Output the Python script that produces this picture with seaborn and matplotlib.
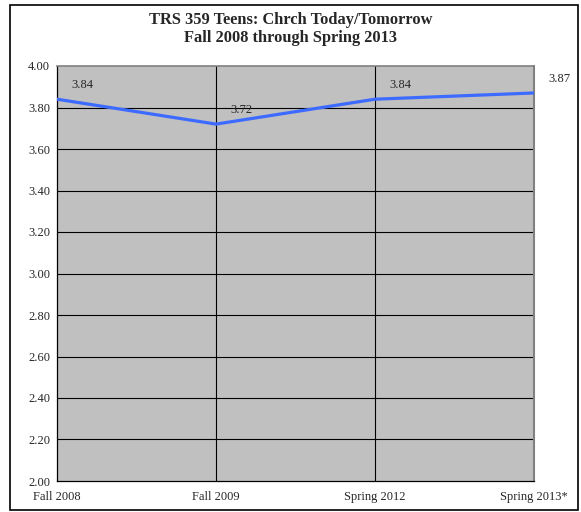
import matplotlib.pyplot as plt
import seaborn as sns
from matplotlib.patches import Rectangle

semesters = ['Fall 2008', 'Fall 2009', 'Spring 2012', 'Spring 2013*']
scores = [3.84, 3.72, 3.84, 3.87]
y_ticks = [2.00, 2.20, 2.40, 2.60, 2.80, 3.00, 3.20, 3.40, 3.60, 3.80, 4.00]

sns.set_style('white')
plt.rcParams['font.family'] = ['Liberation Serif', 'DejaVu Serif']

fig = plt.figure(figsize=(5.81, 5.12), dpi=100)
ax = fig.add_axes([57 / 581, 1 - 481 / 512, 477 / 581, 415 / 512])
ax.set_facecolor('#c0c0c0')

pos = list(range(len(semesters)))
sns.lineplot(x=pos, y=scores, ax=ax, color='#3d6bff', linewidth=2.3, zorder=3)

for x, y in zip(pos, scores):
    ax.annotate(f'{y:.2f}', (x, y), xytext=(14, 8), textcoords='offset pixels',
                fontsize=9, ha='left', va='bottom')

ax.set_xlim(0, 3)
ax.set_ylim(2.0, 4.0)
ax.set_yticks(y_ticks)
ax.set_yticklabels([f'{v:.2f}' for v in y_ticks], fontsize=9)
ax.set_xticks(pos)
ax.set_xticklabels(semesters, fontsize=9)
ax.tick_params(axis='both', direction='out', length=3, width=0.8, color='black', pad=2)
ax.tick_params(axis='x', length=4, pad=3)

for v in y_ticks[1:-1]:
    ax.axhline(v, color='black', linewidth=0.8, zorder=1)
for x in pos[1:-1]:
    ax.axvline(x, color='black', linewidth=0.8, zorder=1)

ax.spines['left'].set_color('black')
ax.spines['bottom'].set_color('black')
ax.spines['top'].set_color('#808080')
ax.spines['right'].set_color('#808080')
for s in ax.spines.values():
    s.set_linewidth(0.9)
ax.spines['top'].set_linewidth(1.2)
ax.spines['right'].set_linewidth(1.5)

fig.text(0.5, 1 - 29 / 512, 'TRS 359 Teens: Chrch Today/Tomorrow\nFall 2008 through Spring 2013',
         ha='center', va='center', fontsize=11.8, fontweight='bold', linespacing=1.12)

fig.patches.append(Rectangle((10 / 581, 1 - 510 / 512), 568 / 581, 505 / 512,
                             transform=fig.transFigure, fill=False,
                             edgecolor='black', linewidth=1.2))

plt.savefig('out.png', dpi=100)
plt.close()
